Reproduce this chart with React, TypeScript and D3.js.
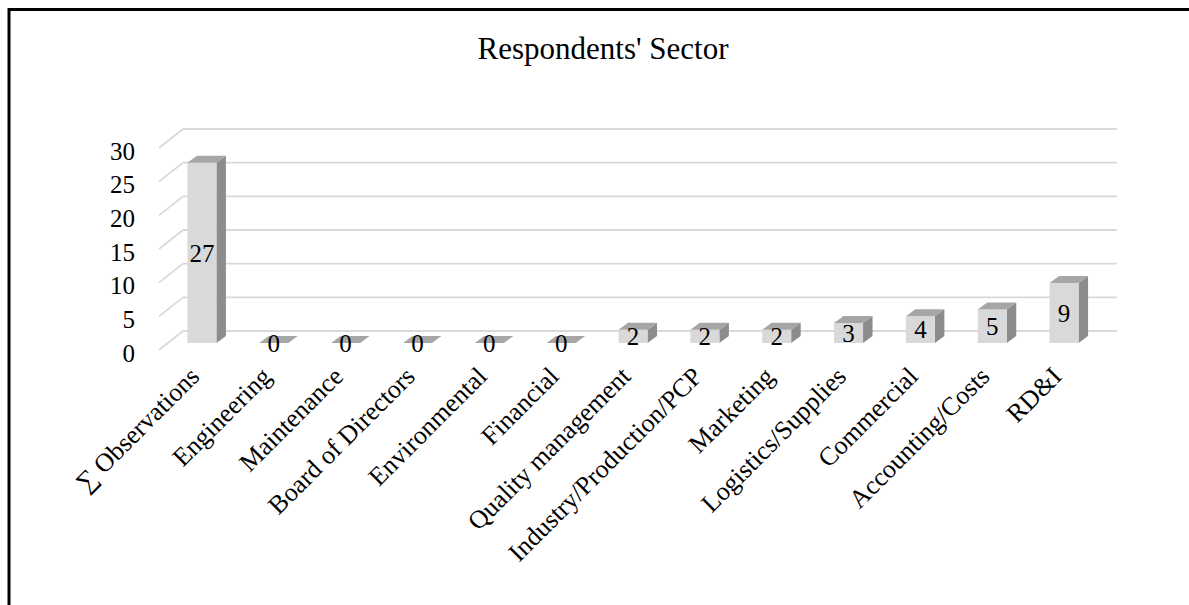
import React from "react";
import * as d3 from "d3";

const categories = [
  "∑ Observations",
  "Engineering",
  "Maintenance",
  "Board of Directors",
  "Environmental",
  "Financial",
  "Quality management",
  "Industry/Production/PCP",
  "Marketing",
  "Logistics/Supplies",
  "Commercial",
  "Accounting/Costs",
  "RD&I",
];
const values = [27, 0, 0, 0, 0, 0, 2, 2, 2, 3, 4, 5, 9];
const yTicks = [0, 5, 10, 15, 20, 25, 30];
const title = "Respondents' Sector";

const W = 1189;
const H = 605;
const FONT = "'Liberation Serif', 'Times New Roman', serif";

export default function App() {
  // back wall
  const yBack = d3.scaleLinear().domain([0, 30]).range([331, 129]);
  const depthDx = -24;
  const depthDy = 19;
  const wallLeft = 183;
  const wallRight = 1117;
  // bars (mid-depth plane)
  const yBar = d3.scaleLinear().domain([0, 30]).range([343, 343 - 200.4]);
  const x = d3.scaleBand<string>().domain(categories).range([166, 1100]).padding(0);
  const barHalf = 14.5;
  const bdx = 9.5;
  const bdy = 7;

  return (
    <svg
      width={W}
      height={H}
      style={{ position: "absolute", left: 0, top: 0, display: "block", background: "#fff" }}
    >
      <rect x={9} y={9.5} width={1400} height={800} fill="none" stroke="#000" strokeWidth={3} />
      <text x={603} y={59} textAnchor="middle" fontFamily={FONT} fontSize={31} fill="#000">
        {title}
      </text>
      {/* gridlines */}
      {yTicks.map((t) => (
        <g key={"g" + t}>
          <line x1={wallLeft} x2={wallRight} y1={yBack(t)} y2={yBack(t)} stroke="#d9d9d9" strokeWidth={1.8} />
          <line
            x1={wallLeft + depthDx}
            y1={yBack(t) + depthDy}
            x2={wallLeft}
            y2={yBack(t)}
            stroke="#d9d9d9"
            strokeWidth={1.8}
          />
          <text
            x={135}
            y={yBack(t) + depthDy + 3}
            dy="0.35em"
            textAnchor="end"
            fontFamily={FONT}
            fontSize={25}
            fill="#000"
          >
            {t}
          </text>
        </g>
      ))}
      {/* bars */}
      {categories.map((c, i) => {
        const v = values[i];
        const cx = (x(c) as number) + x.bandwidth() / 2;
        const x0 = cx - barHalf;
        const x1 = cx + barHalf;
        const yb = yBar(0);
        const yt = yBar(v);
        const top = `M${x0},${yt}L${x1},${yt}L${x1 + bdx},${yt - bdy}L${x0 + bdx},${yt - bdy}Z`;
        const side = `M${x1},${yb}L${x1},${yt}L${x1 + bdx},${yt - bdy}L${x1 + bdx},${yb - bdy}Z`;
        return (
          <g key={c}>
            {v > 0 && <path d={side} fill="#8c8c8c" />}
            {v > 0 && <rect x={x0} y={yt} width={x1 - x0} height={yb - yt} fill="#d9d9d9" />}
            <path d={top} fill="#a6a6a6" />
            <text
              x={cx}
              y={(yb + yt) / 2}
              dy="0.35em"
              textAnchor="middle"
              fontFamily={FONT}
              fontSize={25}
              fill="#000"
            >
              {v}
            </text>
            <text
              transform={`translate(${cx - 1},${378}) rotate(-45)`}
              textAnchor="end"
              fontFamily={FONT}
              fontSize={26}
              fill="#000"
            >
              {c}
            </text>
          </g>
        );
      })}
    </svg>
  );
}
